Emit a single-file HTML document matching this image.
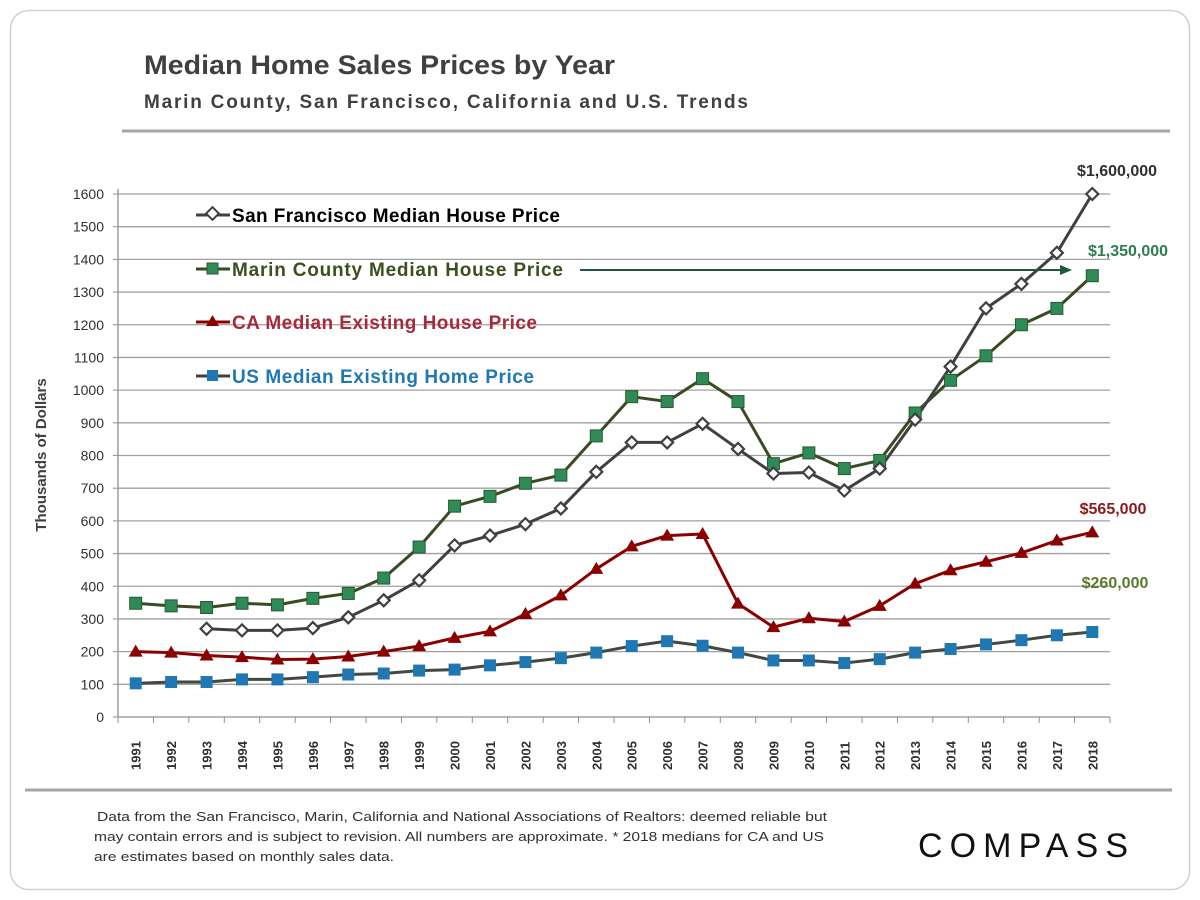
<!DOCTYPE html>
<html><head><meta charset="utf-8"><style>
html,body{margin:0;padding:0;background:#fff;}
svg{display:block;font-family:"Liberation Sans",sans-serif;}
</style></head><body>
<svg id="chart" width="1200" height="900" viewBox="0 0 1200 900" xmlns="http://www.w3.org/2000/svg">
<rect x="10.5" y="10.5" width="1179" height="879" rx="18" fill="#fff" stroke="#d0d0d0" stroke-width="1.5"/>
<text x="144" y="74" font-size="27" font-weight="bold" fill="#404040" textLength="471" lengthAdjust="spacingAndGlyphs">Median Home Sales Prices by Year</text>
<text x="144" y="108" font-size="19" font-weight="bold" fill="#404040" textLength="604" lengthAdjust="spacing">Marin County, San Francisco, California and U.S. Trends</text>
<line x1="122" y1="131" x2="1170" y2="131" stroke="#a6a6a6" stroke-width="3"/>
<line x1="25" y1="790" x2="1172" y2="790" stroke="#a6a6a6" stroke-width="3"/>
<g id="grid"></g>
<g id="axes"></g>
<g id="series"></g>
<text transform="translate(46,455) rotate(-90)" text-anchor="middle" font-size="15" font-weight="bold" fill="#404040">Thousands of Dollars</text>
<g font-size="19" font-weight="bold">
  <g>
    <line x1="196" y1="215" x2="230" y2="215" stroke="#404040" stroke-width="3"/>
    <rect x="208" y="209" width="9" height="9" transform="rotate(45 212.5 213.5)" fill="#fff" stroke="#404040" stroke-width="2"/>
    <text x="232" y="222" fill="#000" textLength="328" lengthAdjust="spacing">San Francisco Median House Price</text>
  </g>
  <g>
    <line x1="196" y1="269" x2="230" y2="269" stroke="#3a4a22" stroke-width="3"/>
    <rect x="207" y="263" width="11" height="11" fill="#2e8b57" stroke="#2a5a2a" stroke-width="1"/>
    <text x="232" y="276" fill="#3d4f1e" textLength="331" lengthAdjust="spacing">Marin County Median House Price</text>
  </g>
  <g>
    <line x1="196" y1="322" x2="230" y2="322" stroke="#8b0000" stroke-width="3"/>
    <polygon points="212.5,315 219,326 206,326" fill="#8b0000"/>
    <text x="232" y="329" fill="#a52a3a" textLength="305" lengthAdjust="spacing">CA Median Existing House Price</text>
  </g>
  <g>
    <line x1="196" y1="376" x2="230" y2="376" stroke="#404040" stroke-width="3"/>
    <rect x="207" y="370" width="11" height="11" fill="#1f77b4"/>
    <text x="232" y="383" fill="#1f77b4" textLength="302" lengthAdjust="spacing">US Median Existing Home Price</text>
  </g>
</g>
<g>
  <line x1="580" y1="270" x2="1062" y2="270" stroke="#1e5a3a" stroke-width="2"/>
  <polygon points="1072,270 1060,265 1060,275" fill="#1e5a3a"/>
</g>
<text x="1117" y="176" text-anchor="middle" font-size="16" font-weight="bold" fill="#303030">$1,600,000</text>
<text x="1128" y="256" text-anchor="middle" font-size="16" font-weight="bold" fill="#2e7d4f">$1,350,000</text>
<text x="1113" y="514" text-anchor="middle" font-size="16" font-weight="bold" fill="#8b1a1a">$565,000</text>
<text x="1115" y="588" text-anchor="middle" font-size="16" font-weight="bold" fill="#5a7a2a">$260,000</text>
<g font-size="13" fill="#303030">
  <text x="97" y="821" textLength="730" lengthAdjust="spacingAndGlyphs">Data from the San Francisco, Marin, California and National Associations of Realtors: deemed reliable but</text>
  <text x="94" y="841" textLength="730" lengthAdjust="spacingAndGlyphs">may contain errors and is subject to revision. All numbers are approximate. * 2018 medians for CA and US</text>
  <text x="94" y="861" textLength="300" lengthAdjust="spacingAndGlyphs">are estimates based on monthly sales data.</text>
</g>
<text x="918" y="857" font-size="34" fill="#111" textLength="216" lengthAdjust="spacing" letter-spacing="6">COMPASS</text>
</svg>
<script>
const years = [1991,1992,1993,1994,1995,1996,1997,1998,1999,2000,2001,2002,2003,2004,2005,2006,2007,2008,2009,2010,2011,2012,2013,2014,2015,2016,2017,2018];
const sfValues = [null,null,270,265,265,272,305,357,418,525,555,590,638,750,840,840,897,820,745,748,693,760,910,1072,1250,1325,1420,1600];
const marinValues = [348,340,335,348,343,363,378,425,520,645,675,715,740,860,980,965,1035,965,775,808,760,785,930,1030,1105,1200,1250,1350];
const caValues = [200,197,188,183,176,177,185,200,217,242,262,315,372,453,522,555,560,347,275,302,292,340,408,449,475,502,540,565];
const usValues = [103,107,107,115,115,122,130,133,142,145,158,168,180,197,217,232,218,197,173,173,165,177,197,208,222,235,250,260];
const yTicks = [0,100,200,300,400,500,600,700,800,900,1000,1100,1200,1300,1400,1500,1600];

const NS = "http://www.w3.org/2000/svg";
const plotL = 118, plotR = 1110, y0 = 717, y1600 = 194;
const step = (plotR - plotL) / years.length;
const xScale = i => plotL + step * (i + 0.5);
const yScale = v => y0 - (v / 1600) * (y0 - y1600);
function mk(tag, attrs, parent) { const e = document.createElementNS(NS, tag); for (const k in attrs) e.setAttribute(k, attrs[k]); parent.appendChild(e); return e; }

const grid = document.getElementById('grid');
const axes = document.getElementById('axes');
yTicks.forEach(t => {
  const y = yScale(t);
  if (t > 0) {
    const g = mk('line', {x1: plotL, x2: plotR, y1: y, y2: y, stroke: '#a0a0a0', 'stroke-width': 1.3}, grid);
    
    
  }
  const tk = mk('line', {x1: plotL - 5, x2: plotL, y1: y, y2: y, stroke: '#909090'}, axes);
  
  
  const lbl = mk('text', {x: 104, y: y + 5, 'text-anchor': 'end', 'font-size': 14, fill: '#303030'}, axes);
  lbl.textContent = t;
  
  
});
const ya = mk('line', {x1: plotL, x2: plotL, y1: 189, y2: y0, stroke: '#909090', 'stroke-width': 1.3}, axes);


const xa = mk('line', {x1: plotL, x2: plotR, y1: y0, y2: y0, stroke: '#909090', 'stroke-width': 1.3}, axes);


for (let i = 0; i <= years.length; i++) {
  const x = plotL + step * i;
  const tk = mk('line', {x1: x, x2: x, y1: y0, y2: y0 + 6, stroke: '#909090'}, axes);
  
  
}
years.forEach((yr, i) => {
  const x = xScale(i);
  const t = mk('text', {transform: `translate(${x + 5},770) rotate(-90)`, 'font-size': 13, 'font-weight': 'bold', fill: '#303030'}, axes);
  t.textContent = yr;
  
  
});

const series = document.getElementById('series');
function drawLine(vals, color, name) {
  let d = '';
  vals.forEach((v, i) => { if (v == null) return; d += (d ? 'L' : 'M') + xScale(i) + ',' + yScale(v); });
  const p = mk('path', {d: d, fill: 'none', stroke: color, 'stroke-width': 3, 'stroke-linejoin': 'round'}, series);
  
  
}
function drawMarkers(vals, kind, name) {
  vals.forEach((v, i) => {
    if (v == null) return;
    const x = xScale(i), y = yScale(v);
    let m;
    if (kind === 'diamond') m = mk('polygon', {points: `${x},${y-6} ${x+6},${y} ${x},${y+6} ${x-6},${y}`, fill: '#fff', stroke: '#404040', 'stroke-width': 2.2}, series);
    else if (kind === 'green') m = mk('rect', {x: x-6, y: y-6, width: 12, height: 12, fill: '#2e8b57', stroke: '#2a5a2a', 'stroke-width': 1}, series);
    else if (kind === 'tri') m = mk('polygon', {points: `${x},${y-7} ${x+7},${y+5} ${x-7},${y+5}`, fill: '#8b0000'}, series);
    else m = mk('rect', {x: x-6, y: y-6, width: 12, height: 12, fill: '#1f77b4'}, series);
    
    
  });
}
drawLine(usValues, '#404a40', 'us');
drawLine(caValues, '#8b0000', 'ca');
drawLine(marinValues, '#3a4a22', 'marin');
drawLine(sfValues, '#404040', 'sf');
drawMarkers(usValues, 'blue', 'us');
drawMarkers(caValues, 'tri', 'ca');
drawMarkers(marinValues, 'green', 'marin');
drawMarkers(sfValues, 'diamond', 'sf');
</script>
</body></html>
